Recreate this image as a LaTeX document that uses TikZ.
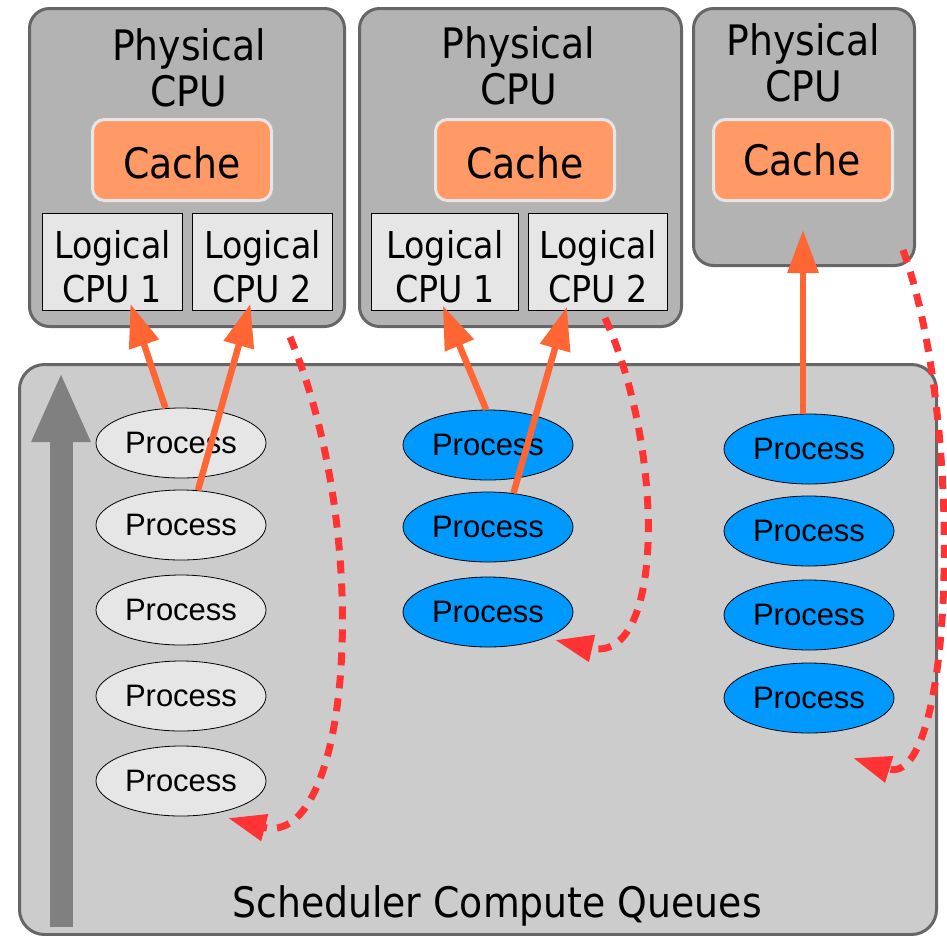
\documentclass[tikz,border=0pt]{standalone}
\usepackage{fontspec}
\setmainfont{DejaVu Sans}[FakeStretch=0.9]
\newfontfamily\procfont{Liberation Sans}
\usetikzlibrary{shapes.geometric,arrows.meta,calc}

\definecolor{physfill}{HTML}{B3B3B3}
\definecolor{edgegray}{HTML}{666666}
\definecolor{cachefill}{HTML}{FF9966}
\definecolor{cacheedge}{HTML}{E6E6E6}
\definecolor{logfill}{HTML}{E6E6E6}
\definecolor{schedfill}{HTML}{CCCCCC}
\definecolor{procgray}{HTML}{E6E6E6}
\definecolor{procblue}{HTML}{0099FF}
\definecolor{linkorange}{HTML}{FF6633}
\definecolor{migred}{HTML}{FF3333}
\definecolor{prioarrow}{HTML}{808080}

\newcommand\bigfont{\fontsize{42}{46}\selectfont}
\newcommand\logfont{\fontsize{37}{44}\selectfont}
\newcommand\procsize{\procfont\fontsize{31}{36}\selectfont}

\begin{document}
\begin{tikzpicture}[x=1pt,y=-1pt,
  physbox/.style={draw=edgegray, line width=3pt, fill=physfill,
    rounded corners=20pt, anchor=north west, inner sep=0pt},
  cachebox/.style={draw=cacheedge, line width=3pt, fill=cachefill,
    rounded corners=12pt, anchor=north west, inner sep=0pt,
    minimum width=179, minimum height=81},
  logbox/.style={draw=black, line width=0.8pt, fill=logfill,
    anchor=north west, inner sep=0pt, minimum width=140, minimum height=97},
  schedbox/.style={draw=edgegray, line width=3pt, fill=schedfill,
    rounded corners=25pt, anchor=north west, inner sep=0pt},
  titletext/.style={font=\bigfont, align=center, anchor=north, inner sep=0pt},
  cachetext/.style={font=\bigfont, anchor=base, inner sep=0pt},
  logtext/.style={font=\logfont, align=center, anchor=north, inner sep=0pt},
  proc/.style={ellipse, draw=black, line width=0.8pt, minimum width=170,
    minimum height=70, inner sep=0pt, font=\procsize},
  procidle/.style={proc, fill=procgray},
  procrun/.style={proc, fill=procblue},
  bindarrow/.style={draw=linkorange, line width=6.5pt,
    -{Triangle[length=43pt,width=30pt]}},
  migrate/.style={draw=migred, line width=7pt, dash pattern=on 13pt off 10pt,
    -{Triangle[length=38pt,width=26pt]}},
]
\useasboundingbox (0,0) rectangle (947,935);

% Physical CPU packages
\node[physbox, minimum width=315, minimum height=318] (pc1) at (28,7) {};
\node[physbox, minimum width=322, minimum height=318] (pc2) at (358,7) {};
\node[physbox, minimum width=221, minimum height=257] (pc3) at (692,7) {};

\node[titletext] (pc1t) at (189,28) {Physical\\CPU};
\node[titletext] (pc2t) at (518.5,26) {Physical\\CPU};
\node[titletext] (pc3t) at (803.5,23) {Physical\\CPU};

% Caches
\node[cachebox] (c1) at (91,118) {};
\node[cachebox] (c2) at (434,118) {};
\node[cachebox] (c3) at (712,118) {};
\node[cachetext] (c1t) at (182,178) {Cache};
\node[cachetext] (c2t) at (525,178) {Cache};
\node[cachetext] (c3t) at (802,175) {Cache};

% Logical CPUs
\node[logbox] (l11) at (42,213) {};
\node[logbox] (l12) at (192,213) {};
\node[logbox, minimum width=147] (l21) at (371,213) {};
\node[logbox, minimum width=139] (l22) at (528,213) {};
\node[logtext] (l11t) at (l11.north |- 0,230) {Logical\\CPU 1};
\node[logtext] (l12t) at (l12.north |- 0,230) {Logical\\CPU 2};
\node[logtext] (l21t) at (l21.north |- 0,230) {Logical\\CPU 1};
\node[logtext] (l22t) at (l22.north |- 0,230) {Logical\\CPU 2};

% Scheduler run queues
\node[schedbox, minimum width=917, minimum height=570] (sched) at (18,363) {};
\node[cachetext] (schedt) at (497,917) {Scheduler Compute Queues};

% Priority direction
\coordinate (prioLow) at (61,927);
\coordinate (prioHigh) at (61,372);
\draw[draw=prioarrow, line width=23pt, -{Triangle[length=70pt,width=54pt]}]
  (prioLow) -- (prioHigh);

% Queue 1
\node[procidle] (pL1) at (181,443) {Process};
\node[procidle] (pL2) at (181,525) {Process};
\node[procidle] (pL3) at (181,610) {Process};
\node[procidle] (pL4) at (181,696) {Process};
\node[procidle] (pL5) at (181,781) {Process};

% Queue 2
\node[procrun] (pM1) at (488,445) {Process};
\node[procrun] (pM2) at (488,527) {Process};
\node[procrun] (pM3) at (488,612) {Process};

% Queue 3
\node[procrun] (pR1) at (809,449) {Process};
\node[procrun] (pR2) at (809,531) {Process};
\node[procrun] (pR3) at (809,615) {Process};
\node[procrun] (pR4) at (809,698) {Process};

% Running processes bound to CPUs
\draw[bindarrow] (pL1.114) -- ($(l11.south)+(18,-7)$);
\draw[bindarrow] (pL2.64) -- ($(l12.south)+(-12,-7)$);
\draw[bindarrow] (pM1.93) -- ($(l21.south)+(-2,-5)$);
\draw[bindarrow] (pM2.53) -- ($(l22.south)+(-31,-4)$);
\draw[bindarrow] (c3.south |- pR1.north) -- ($(c3.south)+(0,28)$);

% Preempted processes returned to the queue tail
\coordinate (m1s) at (290,337);
\coordinate (m1e) at (228,818);
\coordinate (m2s) at (605,318);
\coordinate (m2e) at (555,640);
\coordinate (m3s) at (903,250);
\coordinate (m3e) at (853,758);
\draw[migrate] (m1s) .. controls (375,540) and (350,850) .. (m1e);
\draw[migrate] (m2s) .. controls (665,450) and (665,665) .. (m2e);
\draw[migrate] (m3s) .. controls (965,420) and (955,790) .. (m3e);
\end{tikzpicture}
\end{document}
